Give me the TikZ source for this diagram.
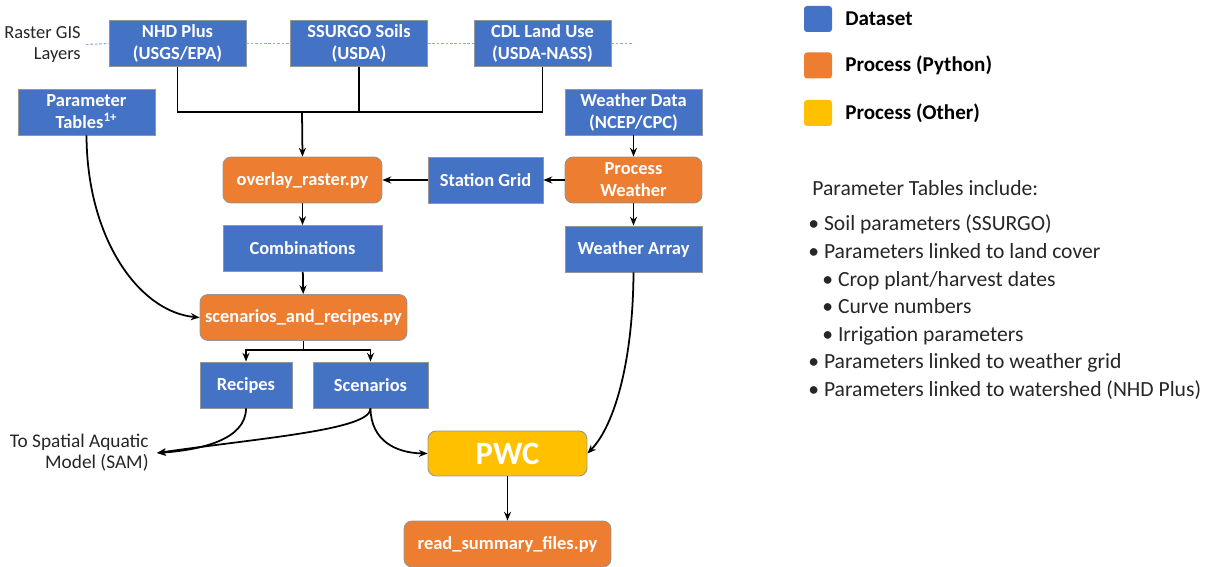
\documentclass[tikz,border=0pt]{standalone}
\usepackage{fontspec}
\setmainfont{Carlito}
\usepackage{xcolor}
\usepackage{tikz}
\usetikzlibrary{arrows.meta,positioning,calc}
\definecolor{datablue}{RGB}{68,114,196}
\definecolor{pyorange}{RGB}{237,125,49}
\definecolor{otheryellow}{RGB}{255,192,0}
\definecolor{layerblue}{RGB}{143,170,220}
\definecolor{boxedge}{RGB}{150,150,150}
\definecolor{textgray}{RGB}{38,38,38}

\tikzset{
    dataset/.style={draw=boxedge, line width=0.5pt, fill=datablue, text=white, align=center,
        font=\fontsize{10.5}{12.5}\selectfont\bfseries, inner sep=0pt, minimum height=0.92cm},
    pyproc/.style={dataset, fill=pyorange, rounded corners=0.16cm},
    otherproc/.style={dataset, fill=otheryellow, rounded corners=0.16cm},
    flow/.style={->, line width=1pt},
    layerline/.style={layerblue, line width=0.6pt, dash pattern=on 1.5pt off 1pt},
    legendkey/.style={draw=none, rounded corners=0.06cm, minimum width=0.56cm, minimum height=0.52cm, inner sep=0pt},
    legendtext/.style={anchor=west, inner sep=0pt, font=\fontsize{12}{14}\selectfont\bfseries}
}

\begin{document}
\begin{tikzpicture}[x=0.02cm, y=-0.02cm, >={Stealth[length=5pt,width=4pt]}]
    \useasboundingbox (0,0) rectangle (1217,567);

    % Raster layers
    \node[anchor=east, align=right, inner sep=0.1cm, text=textgray, font=\fontsize{10.5}{12.5}\selectfont] (raster) at (86,44.5) {Raster GIS\\Layers};
    \node[dataset, minimum width=2.74cm] (nhd) at (177.5,43.5) {NHD Plus\\(USGS/EPA)};
    \node[dataset, minimum width=2.74cm] (ssurgo) at (359,43.5) {SSURGO Soils\\(USDA)};
    \node[dataset, minimum width=2.74cm] (cdl) at (542.5,43.5) {CDL Land Use\\(USDA-NASS)};
    \coordinate (layerend) at (632,43.5);

    % Blocks
    \node[dataset, minimum width=2.74cm] (partab) at (86.5,112) {Parameter\\Tables\textsuperscript{1+}};
    \node[dataset, minimum width=2.74cm] (wdata) at (633.5,112) {Weather Data\\(NCEP/CPC)};
    \node[pyproc, minimum width=3.18cm] (overlay) at (302.5,180) {overlay\_raster.py};
    \node[dataset, minimum width=2.3cm] (station) at (485.5,180) {Station Grid};
    \node[pyproc, minimum width=2.74cm] (procw) at (633.5,180) {Process\\Weather};
    \node[dataset, minimum width=3.18cm] (combos) at (302.5,248.5) {Combinations};
    \node[dataset, minimum width=2.74cm] (weatharr) at (633.5,249) {Weather Array};
    \node[pyproc, minimum width=4.14cm] (scenrec) at (303.5,317.5) {scenarios\_and\_recipes.py};
    \node[dataset, minimum width=1.84cm] (recipes) at (246,385) {Recipes};
    \node[dataset, minimum width=2.3cm] (scen) at (370.5,385) {Scenarios};
    \node[otherproc, minimum width=3.18cm, minimum height=0.9cm, font=\fontsize{18.5}{20}\selectfont\bfseries] (pwc) at (507.5,453.5) {PWC};
    \node[pyproc, minimum width=4.14cm] (readsum) at (507.5,544) {read\_summary\_files.py};
    \node[anchor=east, align=right, inner sep=0.16cm, text=textgray, font=\fontsize{11}{12}\selectfont] (sam) at (157,453) {To Spatial Aquatic\\Model (SAM)};

    % Legend
    \node[legendkey, fill=datablue] (keydata) at (818,19) {};
    \node[legendtext] (labdata) at (845,19) {Dataset};
    \node[legendkey, fill=pyorange] (keypy) at (818,65.5) {};
    \node[legendtext] (labpy) at (845,65.5) {Process (Python)};
    \node[legendkey, fill=otheryellow] (keyother) at (818,113) {};
    \node[legendtext] (labother) at (845,113) {Process (Other)};

    % Parameter tables note
    \node[anchor=north west, align=left, inner sep=0pt, text=textgray, font=\fontsize{12.3}{15.7}\selectfont] (partabnote) at (812,180) {Parameter Tables include:\\[4.5pt]
        \hspace{-0.08cm}• Soil parameters (SSURGO)\\
        \hspace{-0.08cm}• Parameters linked to land cover\\
        \hspace{0.2cm}• Crop plant/harvest dates\\
        \hspace{0.2cm}• Curve numbers\\
        \hspace{0.2cm}• Irrigation parameters\\
        \hspace{-0.08cm}• Parameters linked to weather grid\\
        \hspace{-0.08cm}• Parameters linked to watershed (NHD Plus)};

    % Layer line
    \draw[layerline] (raster.east) -- (nhd.west);
    \draw[layerline] (nhd.east) -- (ssurgo.west);
    \draw[layerline] (ssurgo.east) -- (cdl.west);
    \draw[layerline] (cdl.east) -- (layerend);

    % Arrows
    \coordinate (merge) at (302,112);
    \draw[line width=1pt] (nhd.south) |- (cdl.south |- merge) -- (cdl.south);
    \draw[line width=1pt] (ssurgo.south) -- (ssurgo.south |- merge);
    \draw[flow] (merge) -- (overlay.north);
    \draw[flow] (wdata) -- (procw);
    \draw[flow] (procw) -- (station);
    \draw[flow] (station) -- (overlay);
    \draw[flow] (procw) -- (weatharr);
    \draw[flow] (overlay) -- (combos);
    \draw[flow] (combos) -- (scenrec);
    \draw[flow] (partab.south) .. controls (87,240) and (140,312) .. (scenrec.west);

    \coordinate (fork) at (303.5,350);
    \draw[line width=1pt] (scenrec.south) -- (fork);
    \draw[flow] (fork) -| (recipes.north);
    \draw[flow] (fork) -| (scen.north);

    \draw[flow] (recipes.south) .. controls (246,440) and (200,450) .. (sam.east);
    \draw[flow] (scen.south) .. controls (371,430) and (260,438) .. (sam.east);
    \draw[flow] (scen.south) .. controls (371,440) and (395,453) .. (pwc.west);
    \draw[flow] (weatharr.south) .. controls (633,360) and (615,425) .. (pwc.east);
    \draw[flow] (pwc) -- (readsum);
\end{tikzpicture}
\end{document}
